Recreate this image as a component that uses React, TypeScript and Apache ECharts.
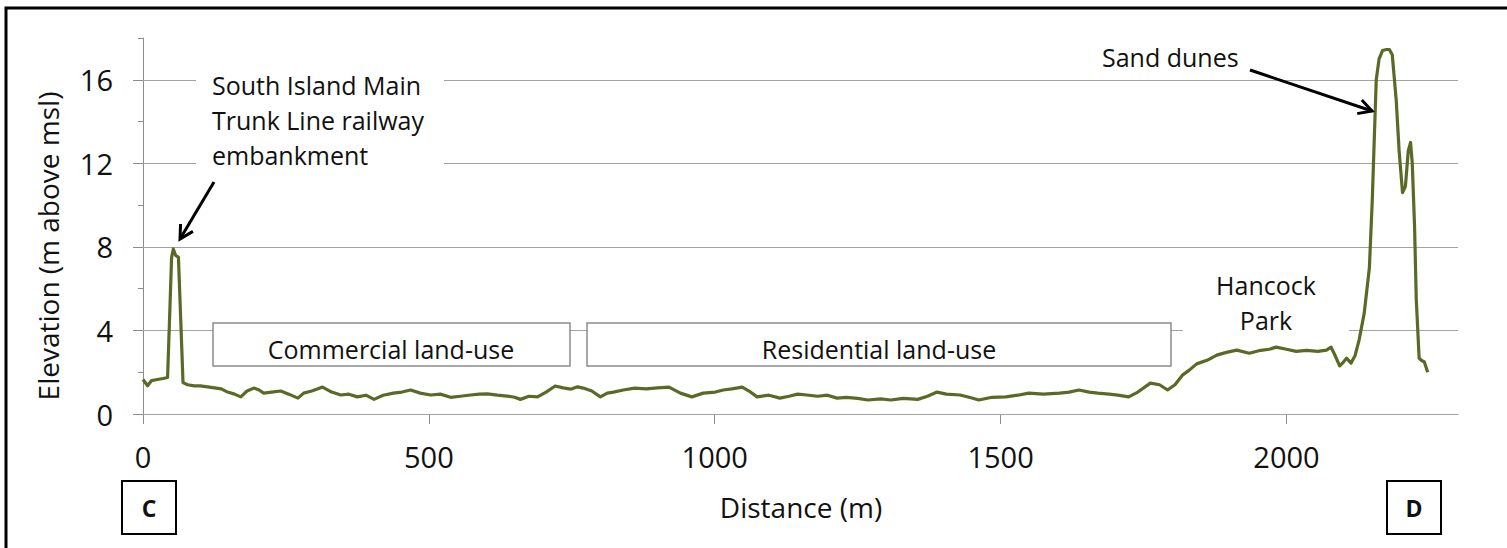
import { useEffect, useRef } from 'react';
import * as echarts from 'echarts';

// Elevation profile C–D: distance along the transect (m) and elevation (m above msl)
const distance = [
  0, 8, 15, 25, 35, 43, 47, 50, 53, 57, 62, 66, 70, 78, 90, 100, 113, 125, 137, 148,
  160, 171, 182, 194, 203, 211, 225, 241, 255, 271, 281, 295, 305, 314, 330, 346, 360, 375, 390, 404,
  420, 438, 453, 468, 485, 503, 520, 538, 555, 573, 588, 602, 620, 637, 650, 660, 675, 690, 705, 721,
  735, 748, 760, 770, 785, 800, 812, 823, 840, 860, 880, 900, 920, 940, 960, 980, 1001, 1015, 1030, 1048,
  1060, 1074, 1095, 1114, 1130, 1145, 1161, 1180, 1197, 1214, 1230, 1250, 1268, 1290, 1308, 1330, 1355, 1372, 1389, 1405,
  1429, 1445, 1462, 1485, 1509, 1530, 1549, 1575, 1603, 1620, 1637, 1655, 1670, 1690, 1705, 1724, 1740, 1762, 1778, 1792,
  1805, 1818, 1830, 1843, 1862, 1878, 1895, 1913, 1935, 1955, 1970, 1982, 2000, 2017, 2035, 2055, 2070, 2078, 2085, 2093,
  2100, 2105, 2113, 2120, 2127, 2136, 2145, 2150, 2157, 2162, 2168, 2175, 2180, 2185, 2192, 2197, 2203, 2208, 2213, 2217,
  2220, 2224, 2227, 2232, 2237, 2241, 2247,
];
const elevation = [
  1.65, 1.35, 1.6, 1.65, 1.7, 1.75, 5.0, 7.5, 7.9, 7.6, 7.5, 4.5, 1.5, 1.4, 1.35, 1.35, 1.3, 1.25, 1.2, 1.05,
  0.95, 0.82, 1.1, 1.24, 1.15, 1.0, 1.05, 1.1, 0.95, 0.76, 1.0, 1.1, 1.2, 1.29, 1.05, 0.91, 0.95, 0.82, 0.9, 0.7,
  0.9, 1.0, 1.05, 1.15, 1.0, 0.91, 0.95, 0.8, 0.85, 0.91, 0.95, 0.96, 0.9, 0.86, 0.8, 0.7, 0.85, 0.82, 1.05, 1.34,
  1.25, 1.19, 1.3, 1.24, 1.1, 0.82, 1.0, 1.05, 1.15, 1.24, 1.2, 1.25, 1.29, 1.0, 0.82, 1.0, 1.05, 1.15, 1.2, 1.29,
  1.1, 0.82, 0.9, 0.76, 0.85, 0.95, 0.91, 0.85, 0.9, 0.76, 0.8, 0.75, 0.67, 0.72, 0.67, 0.75, 0.7, 0.85, 1.05, 0.95,
  0.91, 0.8, 0.67, 0.8, 0.82, 0.9, 1.0, 0.95, 1.0, 1.05, 1.15, 1.05, 1.0, 0.95, 0.9, 0.82, 1.05, 1.48, 1.4, 1.15,
  1.4, 1.86, 2.1, 2.4, 2.58, 2.82, 2.95, 3.06, 2.91, 3.05, 3.1, 3.2, 3.1, 3.0, 3.05, 3.0, 3.06, 3.2, 2.8, 2.3,
  2.5, 2.67, 2.44, 2.8, 3.54, 4.83, 7.0, 10.2, 16.0, 17.0, 17.4, 17.45, 17.45, 17.2, 15.0, 12.6, 10.6, 10.9, 12.6, 13.0,
  12.0, 9.0, 5.5, 2.67, 2.55, 2.5, 2.0,
];

const xTicks = [0, 500, 1000, 1500, 2000];
const yTicks = [0, 4, 8, 12, 16];
const xMax = 2300;
const yMax = 18;

const xTitle = 'Distance (m)';
const yTitle = 'Elevation (m above msl)';
const landUseLabels = ['Commercial land-use', 'Residential land-use'];
const railwayLines = ['South Island Main', 'Trunk Line railway', 'embankment'];
const duneLabel = 'Sand dunes';
const parkLines = ['Hancock', 'Park'];
const endLabels = ['C', 'D'];

const FONT = 'Open Sans';
const TEXT = '#111111';
const AXIS = '#8c8c8c';
const GRID = '#a3a3a3';
const LINE = '#5a6a26';

function txt(x: number, y: number, text: string, size: number, align = 'left', extra: any = {}) {
  return {
    type: 'text',
    x,
    y,
    z: 60,
    silent: true,
    style: {
      text,
      fontFamily: FONT,
      fontSize: size,
      fill: TEXT,
      align,
      verticalAlign: 'middle',
      textAlign: align,
      textVerticalAlign: 'middle',
      ...extra,
    },
  };
}

function arrow(x1: number, y1: number, x2: number, y2: number) {
  const ang = Math.atan2(y2 - y1, x2 - x1);
  const len = 15;
  const spread = 0.5;
  const a1 = ang + Math.PI - spread;
  const a2 = ang + Math.PI + spread;
  const style = { stroke: '#000', lineWidth: 3, fill: 'none' };
  return [
    { type: 'line', z: 60, silent: true, shape: { x1, y1, x2, y2 }, style },
    {
      type: 'polyline',
      z: 60,
      silent: true,
      shape: {
        points: [
          [x2 + len * Math.cos(a1), y2 + len * Math.sin(a1)],
          [x2, y2],
          [x2 + len * Math.cos(a2), y2 + len * Math.sin(a2)],
        ],
      },
      style,
    },
  ];
}

export default function App() {
  const ref = useRef<HTMLDivElement>(null);

  useEffect(() => {
    const chart = echarts.init(ref.current!, null, { renderer: 'svg' });
    const data = distance.map((d, i) => [d, elevation[i]]);

    const axisLabelBase = { fontFamily: FONT, fontSize: 29, color: TEXT };

    const graphic: any[] = [
      // outer frame
      {
        type: 'rect',
        z: 60,
        silent: true,
        shape: { x: 6, y: 8, width: 1530, height: 570 },
        style: { fill: 'none', stroke: '#000', lineWidth: 3 },
      },
      // axis titles
      {
        ...txt(48, 246, yTitle, 28, 'center'),
        rotation: Math.PI / 2,
      },
      txt(801, 507, xTitle, 28, 'center'),
      // C / D boxes
      {
        type: 'rect', z: 60, silent: true,
        shape: { x: 122, y: 481, width: 54, height: 53 },
        style: { fill: '#fff', stroke: '#000', lineWidth: 2 },
      },
      txt(149, 508, endLabels[0], 23, 'center', { fontWeight: 'bold' }),
      {
        type: 'rect', z: 60, silent: true,
        shape: { x: 1387, y: 481, width: 54, height: 53 },
        style: { fill: '#fff', stroke: '#000', lineWidth: 2 },
      },
      txt(1414, 508, endLabels[1], 23, 'center', { fontWeight: 'bold' }),
      // land-use boxes
      {
        type: 'rect', z: 55, silent: true,
        shape: { x: 213, y: 323, width: 357, height: 43 },
        style: { fill: '#fff', stroke: AXIS, lineWidth: 1.5 },
      },
      txt(391, 349, landUseLabels[0], 25, 'center'),
      {
        type: 'rect', z: 55, silent: true,
        shape: { x: 587, y: 323, width: 584, height: 43 },
        style: { fill: '#fff', stroke: AXIS, lineWidth: 1.5 },
      },
      txt(879, 349, landUseLabels[1], 25, 'center'),
      // railway annotation
      {
        type: 'rect', z: 55, silent: true,
        shape: { x: 196, y: 62, width: 248, height: 112 },
        style: { fill: '#fff' },
      },
      txt(212, 85, railwayLines[0], 25),
      txt(212, 120, railwayLines[1], 25),
      txt(212, 155, railwayLines[2], 25),
      ...arrow(214, 182, 180, 239),
      // sand dunes annotation
      txt(1102, 57, duneLabel, 25),
      ...arrow(1250, 70, 1372, 111),
      // Hancock Park
      {
        type: 'rect', z: 55, silent: true,
        shape: { x: 1183, y: 258, width: 166, height: 80 },
        style: { fill: '#fff' },
      },
      txt(1266, 285, parkLines[0], 25, 'center'),
      txt(1266, 320, parkLines[1], 25, 'center'),
    ];

    chart.setOption({
      animation: false,
      backgroundColor: '#ffffff',
      grid: {
        left: 143,
        top: 38,
        right: 49,
        bottom: 134,
        containLabel: false,
        outerBoundsMode: 'none',
      },
      xAxis: {
        type: 'value',
        min: 0,
        max: xMax,
        interval: 500,
        axisLine: { show: true, lineStyle: { color: AXIS, width: 1 } },
        axisTick: { show: true, length: 10, inside: false, customValues: xTicks, lineStyle: { color: AXIS } },
        axisLabel: {
          ...axisLabelBase,
          margin: 28,
          customValues: xTicks,
          formatter: (v: number) => String(v),
        },
        splitLine: { show: false },
      },
      yAxis: [
        {
          type: 'value',
          min: 0,
          max: yMax,
          interval: 2,
          axisLine: { show: true, lineStyle: { color: AXIS, width: 1 } },
          axisTick: { show: true, length: 5, inside: false, lineStyle: { color: AXIS } },
          axisLabel: {
            ...axisLabelBase,
            margin: 30,
            customValues: yTicks,
            formatter: (v: number) => (v % 4 === 0 && v <= 16 ? String(v) : ''),
          },
          splitLine: { show: false },
        },
        {
          type: 'value',
          min: 0,
          max: yMax,
          interval: 2,
          position: 'left',
          axisLine: { show: false },
          axisTick: { show: true, length: 10, inside: false, customValues: yTicks, lineStyle: { color: AXIS } },
          axisLabel: { show: false },
          splitLine: { show: false },
        },
      ],
      series: [
        {
          type: 'line',
          data,
          yAxisIndex: 0,
          showSymbol: false,
          symbol: 'none',
          smooth: false,
          z: 3,
          lineStyle: { color: LINE, width: 3.2, join: 'round' },
          markLine: {
            silent: true,
            symbol: 'none',
            animation: false,
            label: { show: false },
            lineStyle: { color: GRID, width: 1, type: 'solid' },
            z: 1,
            data: yTicks.map((v) => ({ yAxis: v })),
          },
        },
      ],
      graphic,
    });

    return () => chart.dispose();
  }, []);

  return (
    <div
      ref={ref}
      style={{ position: 'fixed', left: 0, top: 0, width: 1507, height: 548, background: '#fff' }}
    />
  );
}
